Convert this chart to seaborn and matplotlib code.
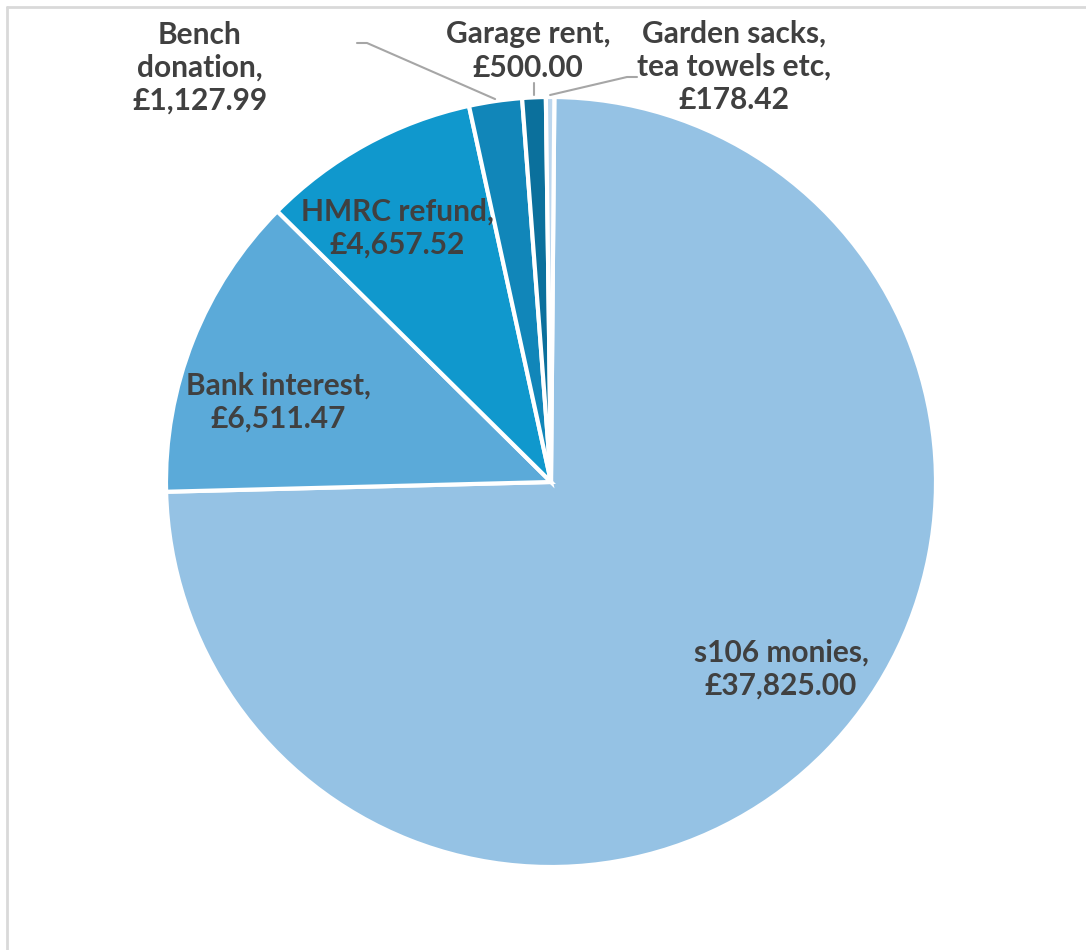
import numpy as np
import matplotlib
matplotlib.use("Agg")
import matplotlib.pyplot as plt
import seaborn as sns
from matplotlib.lines import Line2D

categories = ["s106 monies", "Bank interest", "HMRC refund", "Bench\ndonation",
              "Garage rent", "Garden sacks,\ntea towels etc"]
values = [37825.00, 6511.47, 4657.52, 1127.99, 500.00, 178.42]
colors = ["#95C2E4", "#5BAAD9", "#1098CD", "#1186B9", "#0B709C", "#BDD7EE"]

sns.set_theme(style="white")
plt.rcParams["font.family"] = ["Lato", "DejaVu Sans"]

W, H = 1086, 950
fig = plt.figure(figsize=(W / 100, H / 100), dpi=100)
ax = fig.add_axes([0, 0, 1, 1])

cx, cy, R = 551, H - 482, 385
wedges, _ = ax.pie(values, colors=colors, startangle=89.5, counterclock=False,
                   center=(cx, cy), radius=R, frame=True,
                   wedgeprops=dict(edgecolor="white", linewidth=3))
ax.set_xlim(0, W)
ax.set_ylim(0, H)
ax.set_aspect("equal")
ax.axis("off")

def fmt(v):
    return f"£{v:,.2f}"

labels = [f"{c},\n{fmt(v)}" for c, v in zip(categories, values)]
text_pos = [(781, 669), (278, 402), (397, 228), (200, 68), (528, 51), (734, 67)]
tcol = "#404040"
for lab, (x, y) in zip(labels, text_pos):
    ax.text(x, H - y, lab, ha="center", va="center", fontsize=21.5,
            fontweight="bold", color=tcol, linespacing=1.22)

# leader lines for small slices
lc = "#A6A6A6"
def mid_point(w, rr):
    a = np.deg2rad((w.theta1 + w.theta2) / 2)
    return cx + rr * np.cos(a), cy + rr * np.sin(a)

# Bench donation
px, py = mid_point(wedges[3], R + 2)
ax.add_line(Line2D([357, 367, px], [H - 43, H - 43, py], color=lc, lw=1.5))
# Garage rent
px, py = mid_point(wedges[4], R + 2)
ax.add_line(Line2D([px, px], [py, H - 83], color=lc, lw=1.5))
# Garden sacks
px, py = mid_point(wedges[5], R + 2)
ax.add_line(Line2D([px, 627, 637], [py, H - 77, H - 77], color=lc, lw=1.5))

# chart frame (top and left edges)
fig.add_artist(Line2D([7 / W, 1], [1 - 7 / H, 1 - 7 / H], color="#D9D9D9", lw=2,
                      transform=fig.transFigure))
fig.add_artist(Line2D([7 / W, 7 / W], [0, 1 - 7 / H], color="#D9D9D9", lw=2,
                      transform=fig.transFigure))

fig.savefig("out.png", dpi=100)
